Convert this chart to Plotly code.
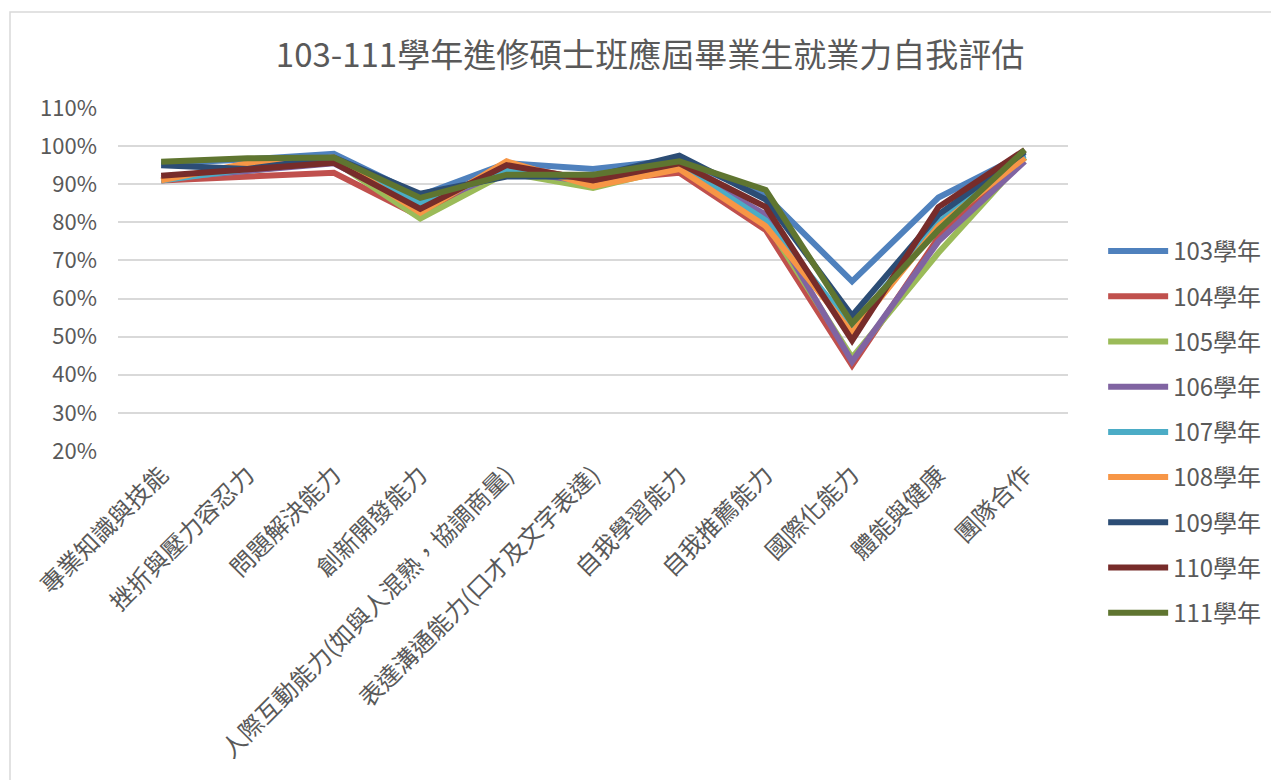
import plotly.graph_objects as go

categories = ["專業知識與技能", "挫折與壓力容忍力", "問題解決能力", "創新開發能力",
              "人際互動能力(如與人混熟，協調商量)", "表達溝通能力(口才及文字表達)",
              "自我學習能力", "自我推薦能力", "國際化能力", "體能與健康", "團隊合作"]

series_names = ["103學年", "104學年", "105學年", "106學年", "107學年",
                "108學年", "109學年", "110學年", "111學年"]

v103 = [95.5, 96.5, 98.0, 87.0, 95.5, 94.0, 96.5, 87.0, 64.5, 86.5, 98.0]
v104 = [91.0, 92.0, 93.0, 81.5, 95.0, 91.0, 93.0, 78.0, 42.5, 76.0, 97.0]
v105 = [91.5, 93.5, 96.0, 81.0, 93.0, 89.0, 94.5, 80.0, 44.5, 72.0, 97.0]
v106 = [91.5, 93.5, 95.5, 84.0, 93.5, 90.5, 95.0, 82.0, 43.5, 75.0, 96.0]
v107 = [91.0, 94.0, 96.0, 85.0, 93.5, 91.5, 95.0, 80.5, 52.5, 80.0, 97.5]
v108 = [91.0, 95.5, 97.0, 82.5, 96.0, 89.5, 94.0, 79.0, 51.0, 79.0, 97.0]
v109 = [95.0, 94.0, 97.0, 87.5, 92.0, 92.0, 97.5, 86.0, 55.5, 82.0, 98.5]
v110 = [92.2, 94.0, 95.6, 83.5, 95.0, 91.0, 95.5, 84.0, 49.0, 84.0, 99.0]
v111 = [95.9, 96.8, 97.0, 86.4, 92.5, 92.5, 96.0, 88.5, 53.5, 78.0, 99.0]

values = [v103, v104, v105, v106, v107, v108, v109, v110, v111]
colors = ["#4F81BD", "#C0504D", "#9BBB59", "#8064A2", "#4BACC6",
          "#F79646", "#2C4D75", "#772C2A", "#5F7530"]

y_ticks = [20, 30, 40, 50, 60, 70, 80, 90, 100, 110]
y_tick_labels = [f"{t}%" for t in y_ticks]

font_family = "Noto Sans CJK TC, Noto Sans, sans-serif"
gray = "#595959"

L, T, R, B = 110, 100, 219, 337
PW, PH = 1279 - L - R, 780 - T - B

fig = go.Figure()
for name, vals, col in zip(series_names, values, colors):
    fig.add_trace(go.Scatter(
        x=categories, y=vals, name=name, mode="lines",
        line=dict(color=col, width=6), legendgroup=name,
    ))

fig.update_layout(
    width=1279, height=780,
    paper_bgcolor="white", plot_bgcolor="white",
    margin=dict(l=L, r=R, t=T, b=B, autoexpand=False),
    title=dict(text="103-111學年進修碩士班應屆畢業生就業力自我評估",
               x=(642 - L) / PW, xref="paper", xanchor="center", y=1 - 47 / 780, yanchor="middle",
               font=dict(family=font_family, size=33, color=gray)),
    font=dict(family=font_family, color=gray),
    showlegend=True,
    legend=dict(x=1.037, xanchor="left", y=(PH - 424 + T) / PH, yanchor="middle",
                font=dict(size=24, color=gray), tracegroupgap=11,
                itemwidth=60, maxheight=600),
)
fig.update_xaxes(
    type="category", tickangle=-45, tickfont=dict(size=24, color=gray),
    showgrid=False, showline=False, ticks="", range=[-0.5, 10.5], automargin=False,
    ticklabelstandoff=4,
)
fig.update_yaxes(
    range=[20, 110], tickvals=y_ticks, ticktext=y_tick_labels,
    tickfont=dict(size=22, color=gray), showgrid=True, gridcolor="#D9D9D9",
    gridwidth=2, zeroline=False, showline=False, ticks="", automargin=False,
    ticklabelstandoff=20,
)
# outer chart frame
fig.add_shape(type="rect", xref="paper", yref="paper",
              x0=-(L - 2) / PW, x1=(1290 - L) / PW, y0=-(B + 10) / PH, y1=(T - 4) / PH + 1,
              line=dict(color="#D9D9D9", width=1.5), fillcolor="rgba(0,0,0,0)", layer="below")

fig.write_html("out.html")
